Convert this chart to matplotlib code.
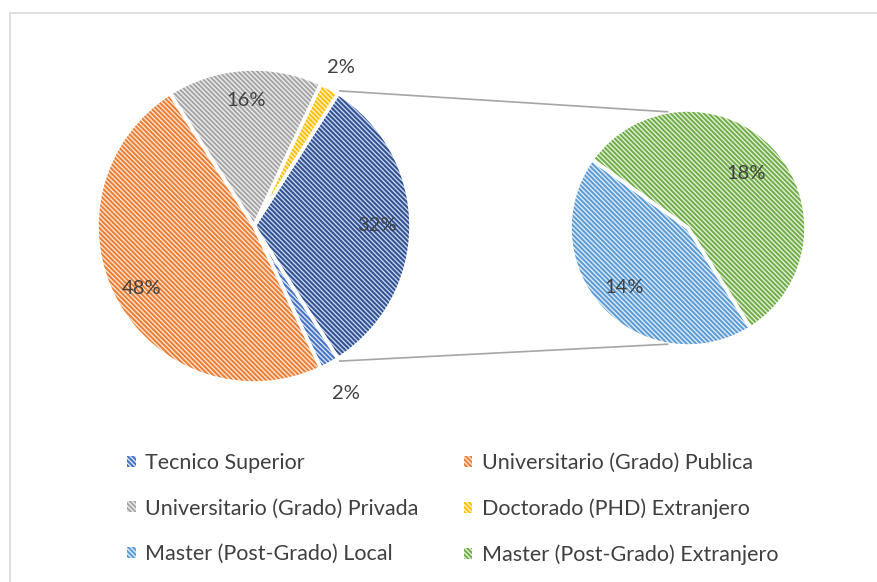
import numpy as np
import matplotlib.pyplot as plt
from matplotlib.patches import Patch

plt.rcParams['font.family'] = ['Lato', 'DejaVu Sans']
plt.rcParams['hatch.linewidth'] = 1.4

# data (percent of total)
main_labels = ['Tecnico Superior', 'Universitario (Grado) Publica',
               'Universitario (Grado) Privada', 'Doctorado (PHD) Extranjero']
main_values = [2, 48, 16, 2]
sub_labels = ['Master (Post-Grado) Local', 'Master (Post-Grado) Extranjero']
sub_values = [14, 18]

# colours: (hatch line colour, background tint)
main_hatch = ['#4472C4', '#ED7D31', '#A5A5A5', '#FFC000', '#2F4F8F']
main_face = ['#DAE3F3', '#FBE3D4', '#EDEDED', '#FFF0C4', '#C5D3EE']
sub_hatch = ['#5B9BD5', '#70AD47']
sub_face = ['#DEEBF7', '#E2EFD9']
txt = '#404040'
HATCH = '\\' * 7

W, H = 877, 582
fig = plt.figure(figsize=(W / 100, H / 100), dpi=100)
ax = fig.add_axes([0, 0, 1, 1])

# chart frame
ax.plot([10, 10, W + 5], [-5, H - 13, H - 13], color='#D9D9D9', lw=1.2)

c1, r1 = (254, H - 226), 157
c2, r2 = (688, H - 228), 118

vals1 = main_values + [sum(sub_values)]
w1, _ = ax.pie(vals1, colors=main_face, startangle=-57.6, counterclock=False,
               center=c1, radius=r1, frame=True,
               wedgeprops=dict(linewidth=0, hatch=HATCH))
for w, hc in zip(w1, main_hatch):
    w.set_edgecolor(hc)
ax.pie(vals1, startangle=-57.6, counterclock=False, center=c1, radius=r1,
       frame=True, wedgeprops=dict(fill=False, edgecolor='white', linewidth=2.6))

w2, _ = ax.pie(sub_values, colors=sub_face, startangle=144.5, center=c2,
               radius=r2, frame=True, wedgeprops=dict(linewidth=0, hatch=HATCH))
for w, hc in zip(w2, sub_hatch):
    w.set_edgecolor(hc)
ax.pie(sub_values, startangle=144.5, center=c2, radius=r2, frame=True,
       wedgeprops=dict(fill=False, edgecolor='white', linewidth=2.6))
ax.set_xlim(0, W)
ax.set_ylim(0, H)
ax.set_aspect('auto')
ax.axis('off')

# percentage labels
def put_label(w, v, dist):
    ang = np.deg2rad((w.theta1 + w.theta2) / 2)
    cx, cy = w.center
    ax.text(cx + dist * w.r * np.cos(ang), cy + dist * w.r * np.sin(ang),
            '%d%%' % v, ha='center', va='center', fontsize=14.5, color=txt)

for w, v, d in zip(w1, vals1, [1.22, 0.82, 0.8, 1.15, 0.78]):
    put_label(w, v, d)
for w, v, d in zip(w2, sub_values, [0.74, 0.68]):
    put_label(w, v, d)

# connector lines
other = w1[-1]
for a_main, a_sub in [(other.theta2, 100), (other.theta1, -100)]:
    p = np.deg2rad(a_main)
    q = np.deg2rad(a_sub)
    ax.plot([c1[0] + (r1 + 3) * np.cos(p), c2[0] + r2 * np.cos(q)],
            [c1[1] + (r1 + 3) * np.sin(p), c2[1] + r2 * np.sin(q)],
            color='#A6A6A6', lw=1.2)

# legend, row-major order
def proxy(w):
    return Patch(facecolor=w.get_facecolor(), edgecolor=w.get_edgecolor(),
                 hatch=HATCH, linewidth=0)

handles = [proxy(w) for w in [w1[0], w1[2], w2[0], w1[1], w1[3], w2[1]]]
labels = [main_labels[0], main_labels[2], sub_labels[0],
          main_labels[1], main_labels[3], sub_labels[1]]
ax.legend(handles, labels, ncol=2, loc='upper left',
          bbox_to_anchor=(127 / W, 1 - 453 / H), frameon=False,
          fontsize=15.5, labelcolor=txt, handlelength=0.4, handleheight=0.4,
          handletextpad=0.45, labelspacing=1.18, columnspacing=2.1,
          borderaxespad=0, borderpad=0)

fig.savefig('out.png', dpi=100)
